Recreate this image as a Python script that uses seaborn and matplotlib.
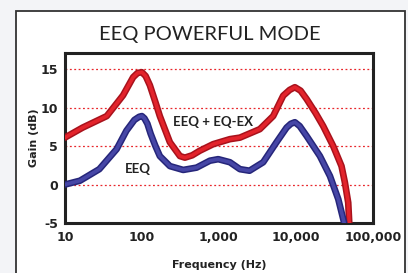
import matplotlib.pyplot as plt
import matplotlib.patheffects as pe
import pandas as pd
import seaborn as sns
from matplotlib import ticker
from matplotlib.patches import Rectangle

sns.set_style("white")
plt.rcParams['font.family'] = ['Lato', 'DejaVu Sans']
plt.rcParams['axes.unicode_minus'] = False

# values
freq_eqex = [10, 17, 35, 57, 77, 88, 100, 112, 127, 150, 171, 231, 312, 362, 450, 566, 843,
             1390, 1875, 3400, 5070, 6840, 8300, 9700, 11500, 13800, 18000, 22600, 30500,
             39100, 43300, 47800, 49300]
gain_eqex = [6.1, 7.4, 8.9, 11.6, 13.95, 14.5, 14.6, 14.1, 12.9, 10.7, 8.9, 5.5, 3.7, 3.5, 3.8, 4.4, 5.25,
             5.9, 6.1, 7.2, 8.9, 11.55, 12.3, 12.65, 12.2, 11.1, 9.3, 7.6, 5.0,
             2.4, 0.26, -2.35, -5.0]

freq_eeq = [10, 15.7, 28, 47, 63, 80, 92, 100, 108, 118, 130, 150, 171, 231, 344, 513, 764, 980,
            1390, 1875, 2500, 3760, 5600, 7570, 8600, 9700, 11200, 13800, 20500,
            27700, 35500, 42400]
gain_eeq = [0.0, 0.5, 2.0, 4.6, 7.0, 8.4, 8.8, 8.9, 8.6, 7.9, 6.6, 5.0, 3.7, 2.4, 1.9, 2.2, 3.1, 3.3,
            2.9, 2.0, 1.8, 2.9, 5.5, 7.4, 7.9, 8.1, 7.6, 6.3, 3.7,
            1.1, -1.9, -5.0]

x_ticks = [10, 100, 1000, 10000, 100000]
x_labels = ["10", "100", "1,000", "10,000", "100,000"]
y_ticks = [-5, 0, 5, 10, 15]

eqex = pd.DataFrame({"freq": freq_eqex, "gain": gain_eqex})
eeq = pd.DataFrame({"freq": freq_eeq, "gain": gain_eeq})

fig = plt.figure(figsize=(4.08, 2.73), dpi=100, facecolor="#f3f4f7")
fig.patches.append(Rectangle((0.039, -0.05), 0.954, 1.01, transform=fig.transFigure,
                             facecolor="white", edgecolor="#333333", lw=1.3, zorder=-10))
ax = fig.add_axes([0.159, 0.183, 0.755, 0.623])
ax.set_zorder(2)
ax.set_facecolor("white")

sns.lineplot(data=eqex, x="freq", y="gain", ax=ax, color="#e3232b", lw=2.6,
             solid_capstyle="round", solid_joinstyle="round", zorder=3,
             path_effects=[pe.Stroke(linewidth=4.8, foreground="#a8121c"), pe.Normal()])
sns.lineplot(data=eeq, x="freq", y="gain", ax=ax, color="#4646a6", lw=2.6,
             solid_capstyle="round", solid_joinstyle="round", zorder=4,
             path_effects=[pe.Stroke(linewidth=4.8, foreground="#26267a"), pe.Normal()])

ax.set_xscale("log")
ax.set_xlim(10, 100000)
ax.set_ylim(-5, 17.1)
ax.set_xticks(x_ticks)
ax.set_xticklabels(x_labels)
ax.xaxis.set_minor_locator(ticker.NullLocator())
ax.set_yticks(y_ticks)
ax.set_yticklabels([str(v) for v in y_ticks])

ax.yaxis.grid(True, color="#e8262b", ls=(0, (1.5, 2)), lw=0.9)
ax.xaxis.grid(False)
ax.set_axisbelow(True)

for s in ax.spines.values():
    s.set_color("#222222")
    s.set_linewidth(2.2)

ax.tick_params(axis="x", direction="inout", length=7, width=2, color="#222222",
               pad=2.5, labelsize=9, labelcolor="#222222")
ax.tick_params(axis="y", length=0, pad=5, labelsize=9, labelcolor="#222222")
for lbl in ax.get_xticklabels() + ax.get_yticklabels():
    lbl.set_fontweight("bold")
    lbl.set_family("DejaVu Sans")

ax.set_xlabel("Frequency (Hz)", fontsize=8, fontweight="bold", color="#222222",
              va="center", family="DejaVu Sans")
ax.set_ylabel("Gain (dB)", fontsize=8, fontweight="bold", color="#222222",
              va="center", family="DejaVu Sans")
ax.xaxis.set_label_coords(0.5, -0.247)
ax.yaxis.set_label_coords(-0.10, 0.5)

ax.text(836, 8.1, "EEQ + EQ-EX", fontsize=9.5, fontweight="bold", color="#222222",
        ha="center", va="center", zorder=5)
ax.text(89, 2.0, "EEQ", fontsize=9.5, fontweight="bold", color="#222222",
        ha="center", va="center", zorder=5)

fig.text(0.515, 0.872, "EEQ POWERFUL MODE", fontsize=14.5, color="#222222",
         ha="center", va="center")

fig.savefig("out.png", dpi=100, facecolor=fig.get_facecolor())
